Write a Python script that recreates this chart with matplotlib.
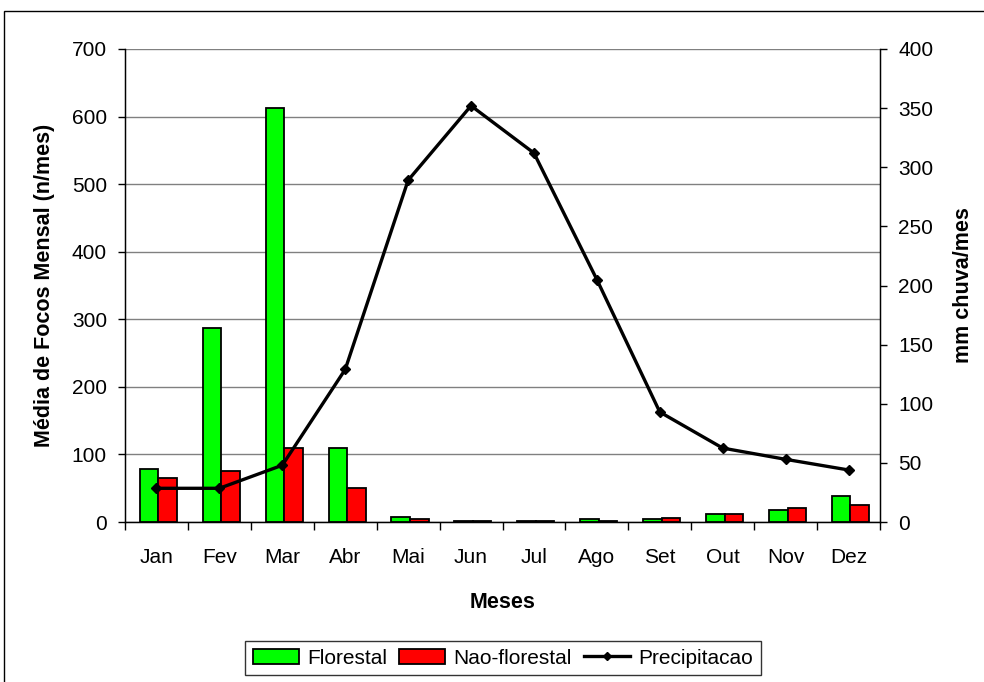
import matplotlib

matplotlib.use("Agg")

import matplotlib.pyplot as plt
from matplotlib.lines import Line2D
from matplotlib.patches import Patch, Rectangle
import numpy as np

plt.rcParams["font.family"] = ["Liberation Sans", "DejaVu Sans"]

months = ["Jan", "Fev", "Mar", "Abr", "Mai", "Jun", "Jul", "Ago", "Set", "Out", "Nov", "Dez"]
florestal = [78, 287, 613, 110, 7, 2, 2, 4.5, 4.5, 12, 18, 39]
nao_florestal = [65, 75, 110, 50, 4.5, 2, 2, 2, 6.5, 12, 20, 25]
precipitacao = [28.5, 28.5, 48, 129, 289, 352, 312, 205, 93, 62.5, 53, 44]

GREEN = "#00FF00"
RED = "#FF0000"

W, H = 984, 682
fig = plt.figure(figsize=(W / 100.0, H / 100.0), dpi=100)
ax = fig.add_axes([125 / W, 1 - 522 / H, 755 / W, 473 / H])

# outer chart frame (runs off the right and bottom edges)
fig.patches.append(Rectangle((4 / W, -0.05), 1.2, 1 - 11 / H + 0.05, transform=fig.transFigure,
                             fill=False, edgecolor="black", linewidth=1.0))

x = np.arange(len(months))
bw = 0.295
ax.bar(x - bw / 2 + 0.03, florestal, bw, color=GREEN, edgecolor="black", linewidth=1.3, zorder=3)
ax.bar(x + bw / 2 + 0.03, nao_florestal, bw, color=RED, edgecolor="black", linewidth=1.3, zorder=3)

ax.set_xlim(-0.5, len(months) - 0.5)
ax.set_ylim(0, 700)
ax.set_yticks(range(0, 701, 100))
ax.set_xticks(x)
ax.set_xticklabels(months)
ax.set_xticks(np.arange(-0.5, len(months), 1.0), minor=True)
ax.tick_params(axis="x", which="major", length=0, pad=19, labelsize=15)
ax.tick_params(axis="x", which="minor", length=6, direction="out", width=1)
ax.tick_params(axis="y", length=5, direction="out", width=1, labelsize=15, pad=8)
ax.yaxis.grid(True, color="#808080", linewidth=1.0, zorder=0)
ax.set_axisbelow(True)
ax.spines["top"].set_visible(False)
for side in ("left", "bottom", "right"):
    ax.spines[side].set_color("black")
    ax.spines[side].set_linewidth(1.0)
ax.set_xlabel("Meses", fontsize=15.5, fontweight="bold", labelpad=18)
ax.set_ylabel("Média de Focos Mensal (n/mes)", fontsize=15.5, fontweight="bold", labelpad=12)

ax2 = ax.twinx()
ax2.set_ylim(0, 400)
ax2.set_yticks(range(0, 401, 50))
ax2.tick_params(axis="y", length=5, direction="out", width=1, labelsize=15, pad=8)
ax2.spines["top"].set_visible(False)
ax2.spines["right"].set_color("black")
ax2.plot(x, precipitacao, color="black", linewidth=2.4, marker="D", markersize=5.5, zorder=4)
ax2.set_ylabel("mm chuva/mes", fontsize=15.5, fontweight="bold", labelpad=14)

handles = [
    Patch(facecolor=GREEN, edgecolor="black", linewidth=1.3),
    Patch(facecolor=RED, edgecolor="black", linewidth=1.3),
    Line2D([], [], color="black", linewidth=2.4, marker="D", markersize=4),
]
leg = fig.legend(handles, ["Florestal", "Nao-florestal", "Precipitacao"], loc="center",
                 bbox_to_anchor=(503 / W, 1 - 658 / H), ncol=3, fontsize=15, frameon=True,
                 fancybox=False, edgecolor="black", handlelength=2.2, handletextpad=0.4,
                 columnspacing=0.6, borderpad=0.35)
leg.get_frame().set_linewidth(1.0)

fig.savefig("out.png", dpi=100, facecolor="white")
